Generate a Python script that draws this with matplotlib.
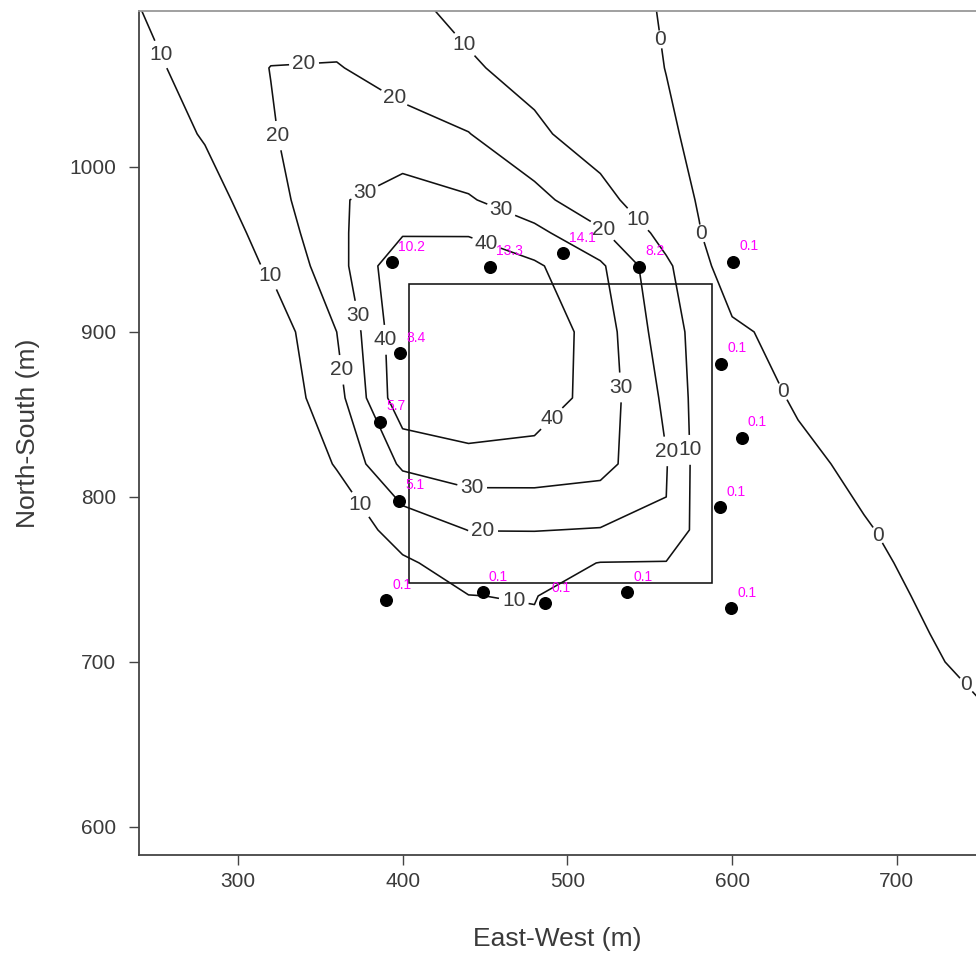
import numpy as np
import matplotlib
matplotlib.use("Agg")
import matplotlib.pyplot as plt
from matplotlib.patches import Rectangle

plt.rcParams['font.family'] = ['Liberation Sans', 'DejaVu Sans']

# ---- gridded field ----
grid_x = [240, 280, 320, 360, 400, 440, 480, 520, 560, 580, 600, 640, 680, 720, 760]
grid_y = [580, 620, 660, 700, 740, 760, 780, 820, 860, 900, 940, 960, 980, 1020, 1060, 1100]

z_580  = [5, 5, 5, 5, 5, 5, 5, 4, 4, 3.8, 3.5, 3, 3, 2.5, 1.5]
z_620  = [5, 5, 5, 5, 5, 5, 5, 4, 4, 3.8, 3.5, 3, 3, 2.5, 1]
z_660  = [5, 5, 5, 5, 5, 6, 6, 5, 4, 3.8, 3.5, 3, 2.5, 2, 0.4]
z_700  = [5, 5, 5, 5, 6, 7.5, 8, 6, 5, 4.5, 4, 3, 2, 0.6, -2]
z_740  = [5, 5, 5, 6, 8, 9.9, 10.3, 5, 6, 5.5, 5, 3.5, 2, -0.8, -3]
z_760  = [5, 5, 5, 6, 9, 13, 13, 9.8, 9.5, 8.5, 6, 3.8, 1.5, -1.8, -4]
z_780  = [5, 5, 5, 5, 13, 20.2, 20.3, 19.5, 19.5, 6, 6, 4, 0.6, -3, -5]
z_820  = [3.5, 3.5, 3, 10.5, 32, 35.5, 35.5, 33.5, 20.5, 6, 4.5, 2, -2, -4, -5]
z_860  = [3, 3, 3, 16.1, 47, 50, 46, 35.6, 18, 6, 4.5, -1, -3, -5, -5]
z_900  = [3, 3, 4, 20, 47.2, 50, 47, 35.4, 14.3, 6.7, 1.5, -3, -5, -5, -5]
z_940  = [3, 3, 11.2, 25.9, 48.5, 48, 41.5, 31.6, 11.7, 3, -5, -5, -5, -5, -5]
z_960  = [3.5, 4, 13.5, 28, 39, 39, 32.8, 21.5, 6.4, 0.3, -4.5, -5, -5, -5, -5]
z_980  = [4, 6, 16, 29, 34, 31, 23.3, 12.8, 3.4, -0.5, -4, -5, -5, -5, -5]
z_1020 = [4, 10.8, 19.2, 27, 24, 20.3, 11.6, 5.8, 0.8, -1.2, -2.5, -5, -5, -5, -5]
z_1060 = [7.6, 13.3, 20.2, 20.6, 15.5, 11, 7.2, 3.5, -0.1, -1.5, -3, -5, -5, -5, -5]
z_1100 = [10.1, 12, 14, 14, 11.5, 7.5, 5, 2.5, -0.5, -1.7, -3, -5, -5, -5, -5]

contour_levels = [0, 10, 20, 30, 40]

# contour label anchor positions
label_pos = [(252.6, 1067.9), (318.8, 933.3), (375.9, 796.4), (468.0, 740.0),
             (437.2, 1073.9), (542.3, 967.9), (573.2, 828.5),
             (340.1, 1063.6), (395.9, 1043.6), (323.7, 1018.8), (521.6, 961.8),
             (556.2, 827.3), (448.8, 777.6), (362.5, 877.0),
             (371.0, 996.4), (460.3, 975.2), (538.0, 866.7), (442.1, 803.0), (374.7, 910.3),
             (451.2, 954.5), (491.3, 846.7), (388.6, 895.2),
             (554.4, 1077.0), (582.3, 960.0), (630.3, 863.6), (685.5, 775.2), (742.0, 686.1)]

# ---- sample points ----
well_x = [393.3, 453.0, 497.1, 543.5, 600.7, 398.4, 593.1, 386.2, 605.8, 397.9,
          592.9, 389.9, 448.6, 486.4, 536.4, 599.6]
well_y = [942.2, 939.6, 947.7, 939.6, 942.6, 887.1, 880.8, 845.6, 835.9, 797.8,
          793.6, 737.6, 742.2, 735.6, 742.2, 732.5]
well_val = ["10.2", "13.3", "14.1", "8.2", "0.1", "8.4", "0.1", "5.7", "0.1", "5.1",
            "0.1", "0.1", "0.1", "0.1", "0.1", "0.1"]

# ---- site boundary ----
site_x = [403.6, 587.6]
site_y = [748.0, 929.0]

x_ticks = [300, 400, 500, 600, 700]
y_ticks = [600, 700, 800, 900, 1000]

Z = np.array([z_580, z_620, z_660, z_700, z_740, z_760, z_780, z_820, z_860,
              z_900, z_940, z_960, z_980, z_1020, z_1060, z_1100])

fig = plt.figure(figsize=(9.76, 9.56), dpi=100)
ax = fig.add_axes([139 / 976, 1 - 855 / 956, (976 - 139) / 976, (855 - 11) / 956])

cs = ax.contour(grid_x, grid_y, Z, levels=contour_levels, colors='#111111',
                linewidths=1.15)
texts = ax.clabel(cs, contour_levels, inline=True, fmt='%d', fontsize=15,
                  colors='#3a3a3a', manual=label_pos, inline_spacing=3)
for t in texts:
    t.set_rotation(0)

ax.add_patch(Rectangle((site_x[0], site_y[0]), site_x[1] - site_x[0],
                       site_y[1] - site_y[0], fill=False, edgecolor='#111111',
                       linewidth=1.15, zorder=3))

ax.scatter(well_x, well_y, s=70, color='black', zorder=4)
for x, y, t in zip(well_x, well_y, well_val):
    ax.annotate(t, (x, y), xytext=(4.5, 6), textcoords='offset points',
                ha='left', va='bottom', color='#ff00ff', fontsize=10, zorder=5)

ax.set_xlim(240, 748)
ax.set_ylim(583, 1094.5)
ax.set_xticks(x_ticks)
ax.set_yticks(y_ticks)
ax.tick_params(axis='both', direction='out', length=7.5, width=1,
               color='#444444', labelcolor='#3a3a3a', labelsize=15)
ax.tick_params(axis='y', pad=9)
ax.tick_params(axis='x', pad=5)

ax.spines['right'].set_visible(False)
ax.spines['top'].set_color('#999999')
ax.spines['left'].set_color('#444444')
ax.spines['bottom'].set_color('#444444')
for s in ['top', 'left', 'bottom']:
    ax.spines[s].set_linewidth(1.3)

ax.set_xlabel('East-West (m)', fontsize=19, color='#3a3a3a', labelpad=26)
ax.set_ylabel('North-South (m)', fontsize=19, color='#3a3a3a', labelpad=21)

fig.savefig('out.png', dpi=100)
